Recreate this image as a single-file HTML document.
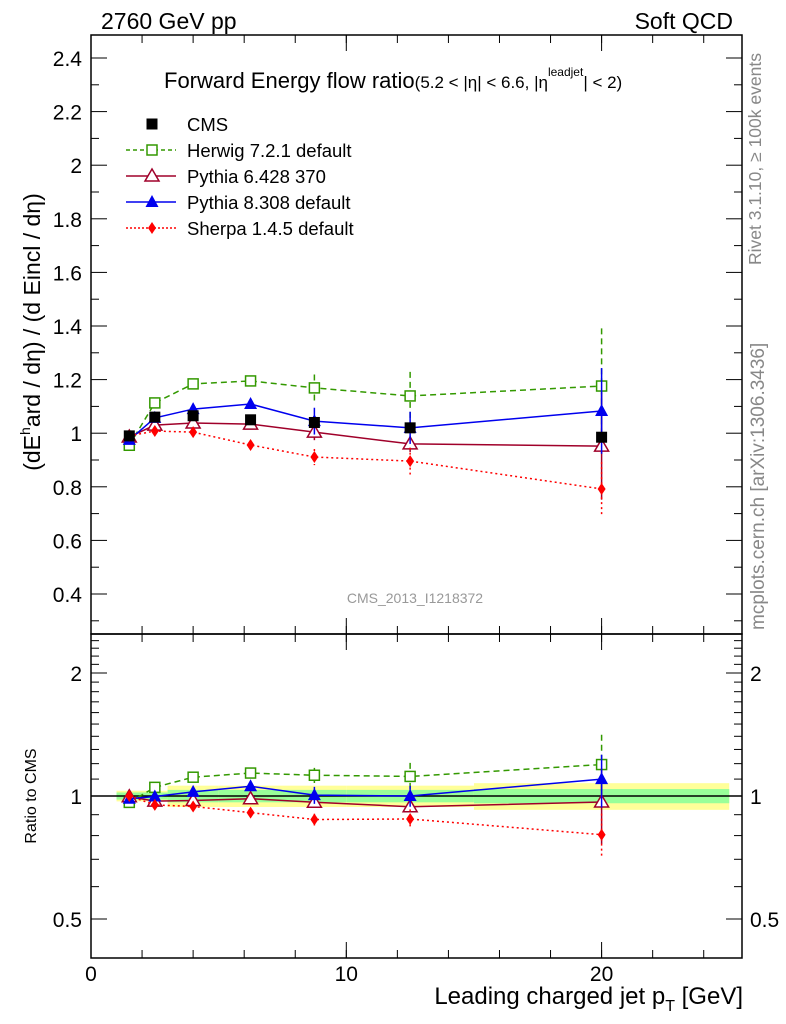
<!DOCTYPE html>
<html><head><meta charset="utf-8"><style>
body{margin:0;background:#fff}
svg{display:block;font-family:"Liberation Sans",sans-serif}
</style></head><body>
<svg id="c" width="786" height="1024" viewBox="0 0 786 1024">
<g id="bands"></g>
<g id="axes"></g>
<g id="series"></g>
<text x="101" y="29" font-size="23">2760 GeV pp</text>
<text x="733" y="29" font-size="23" text-anchor="end">Soft QCD</text>
<text x="164" y="88" font-size="22">Forward Energy flow ratio<tspan font-size="17">(5.2 &lt; |η| &lt; 6.6, |η</tspan><tspan font-size="12" dy="-12">leadjet</tspan><tspan font-size="17" dy="12">| &lt; 2)</tspan></text>
<text x="415" y="603" font-size="14" fill="#999" text-anchor="middle">CMS_2013_I1218372</text>
<text transform="translate(761,265) rotate(-90)" font-size="17.5" fill="#888">Rivet 3.1.10, ≥ 100k events</text>
<text transform="translate(764,630) rotate(-90)" font-size="19" fill="#888">mcplots.cern.ch [arXiv:1306.3436]</text>
<text transform="translate(40,332) rotate(-90)" font-size="23" text-anchor="middle">(dE<tspan font-size="14" dy="-10">h</tspan><tspan dy="10">ard / dη) / (d Eincl / dη)</tspan></text>
<text transform="translate(36,796) rotate(-90)" font-size="16" text-anchor="middle">Ratio to CMS</text>
<text x="743" y="1004" font-size="24" text-anchor="end">Leading charged jet p<tspan font-size="16" dy="7">T</tspan><tspan dy="-7"> [GeV]</tspan></text>
<g id="legend"></g>
</svg>
<script>
const xVals=[1.5,2.5,4,6.25,8.75,12.5,20];
const cms=[0.99,1.06,1.065,1.05,1.04,1.02,0.985];
const herwig=[0.955,1.113,1.184,1.195,1.169,1.139,1.176];
const herwigErr=[0.005,0.01,0.01,0.015,0.05,0.09,0.215];
const pythia6=[0.986,1.03,1.038,1.034,1.004,0.96,0.952];
const pythia6Err=[0.005,0.01,0.01,0.01,0.03,0.03,0.2];
const pythia8=[0.975,1.057,1.09,1.109,1.045,1.02,1.083];
const pythia8Err=[0.005,0.01,0.01,0.015,0.05,0.06,0.16];
const sherpa=[0.99,1.008,1.004,0.956,0.911,0.896,0.792];
const sherpaErr=[0.005,0.01,0.01,0.01,0.03,0.05,0.1];
const binEdges=[1,2,3,5,7.5,10,15,25];
const bandYellow=[0.03,0.03,0.06,0.06,0.06,0.06,0.075];
const bandGreen=[0.02,0.02,0.035,0.035,0.035,0.035,0.04];
const xTicks=[0,10,20];
const yTicks=[0.4,0.6,0.8,1,1.2,1.4,1.6,1.8,2,2.2,2.4];
const rTicks=[0.5,1,2];

const NS="http://www.w3.org/2000/svg";
const L=91,R=742,T1=35,B1=634,T2=634,B2=958;
const X=v=>L+v*25.53;
const Y=v=>58+(2.4-v)*268;
const YR=v=>796-408.6*Math.log10(v);
function mk(tag,at,parent){const e=document.createElementNS(NS,tag);for(const k in at)e.setAttribute(k,at[k]);document.getElementById(parent).appendChild(e);return e;}

binEdges.slice(0,-1).forEach((e,i)=>{
 const x1=X(e),x2=X(binEdges[i+1]);
 let r=mk('rect',{x:x1,y:YR(1+bandYellow[i]),width:x2-x1,height:YR(1-bandYellow[i])-YR(1+bandYellow[i]),fill:'#ffff99'},'bands');
 
 
 let g=mk('rect',{x:x1,y:YR(1+bandGreen[i]),width:x2-x1,height:YR(1-bandGreen[i])-YR(1+bandGreen[i]),fill:'#99ff99'},'bands');
 
 
});
mk('line',{x1:L,x2:R,y1:YR(1),y2:YR(1),stroke:'#000','stroke-width':1.5},'bands');

[[T1,B1],[T2,B2]].forEach(([t,b])=>{const f=mk('rect',{x:L,y:t,width:R-L,height:b-t,fill:'none',stroke:'#000','stroke-width':1.5},'axes');

});
for(let v=0;v<=25;v+=2){const len=8;
 [B1,B2].forEach(b=>mk('line',{x1:X(v),x2:X(v),y1:b,y2:b-len,stroke:'#000'},'axes'));
 [T1,T2].forEach(t=>mk('line',{x1:X(v),x2:X(v),y1:t,y2:t+len,stroke:'#000'},'axes'));}
for(let v=0;v<=25;v+=10){ [B1,B2].forEach(b=>mk('line',{x1:X(v),x2:X(v),y1:b,y2:b-16,stroke:'#000'},'axes')); [T1,T2].forEach(t=>mk('line',{x1:X(v),x2:X(v),y1:t,y2:t+16,stroke:'#000'},'axes'));}
xTicks.forEach(v=>{const t=mk('text',{x:X(v),y:981,'font-size':21,'text-anchor':'middle'},'axes');t.textContent=v;

});
for(let i=3;i<=24;i++){const v=i/10;const maj=i%2==0;const len=maj?16:8;const y=Y(v);if(y<T1||y>B1)continue;
 mk('line',{x1:L,x2:L+len,y1:y,y2:y,stroke:'#000'},'axes');mk('line',{x1:R,x2:R-len,y1:y,y2:y,stroke:'#000'},'axes');}
yTicks.forEach(v=>{const t=mk('text',{x:82,y:Y(v)+8,'font-size':21,'text-anchor':'end'},'axes');t.textContent=v;

});
[0.4,0.5,0.6,0.7,0.8,0.9,1,1.1,1.2,1.3,1.4,1.5,1.6,1.7,1.8,1.9,2,2.1,2.2,2.3,2.4].forEach(v=>{const maj=rTicks.includes(v);const len=maj?16:8;const y=YR(v);if(y<T2+1||y>B2)return;
 mk('line',{x1:L,x2:L+len,y1:y,y2:y,stroke:'#000'},'axes');mk('line',{x1:R,x2:R-len,y1:y,y2:y,stroke:'#000'},'axes');});
rTicks.forEach(v=>{[[82,'end'],[750,'start']].forEach(([x,a])=>{const t=mk('text',{x:x,y:YR(v)+8,'font-size':21,'text-anchor':a},'axes');t.textContent=v;

});});

function marker(kind,x,y,col,parent){
 if(kind=='sqf')return mk('rect',{x:x-5.5,y:y-5.5,width:11,height:11,fill:col},parent);
 if(kind=='sq')return mk('rect',{x:x-5,y:y-5,width:10,height:10,fill:'#fff',stroke:col,'stroke-width':1.5},parent);
 if(kind=='tri')return mk('polygon',{points:`${x},${y-7} ${x-7},${y+5} ${x+7},${y+5}`,fill:'#fff',stroke:col,'stroke-width':1.5},parent);
 if(kind=='trif')return mk('polygon',{points:`${x},${y-7} ${x-6.5},${y+5} ${x+6.5},${y+5}`,fill:col},parent);
 return mk('polygon',{points:`${x},${y-6} ${x-4},${y} ${x},${y+6} ${x+4},${y}`,fill:col},parent);
}
const series=[
 {name:'herwig',vals:herwig,err:herwigErr,col:'#339900',dash:'6,4',m:'sq'},
 {name:'pythia6',vals:pythia6,err:pythia6Err,col:'#a0002a',dash:'',m:'tri'},
 {name:'pythia8',vals:pythia8,err:pythia8Err,col:'#0000ee',dash:'',m:'trif'},
 {name:'sherpa',vals:sherpa,err:sherpaErr,col:'#ff0000',dash:'2,3',m:'dia'}];
series.forEach(s=>{
 [[Y,v=>v,i=>s.err[i]],[YR,(v,i)=>v/cms[i],i=>s.err[i]/cms[i]]].forEach(([yf,tf,ef])=>{
  const pts=s.vals.map((v,i)=>X(xVals[i])+','+yf(tf(v,i))).join(' ');
  const pl=mk('polyline',{points:pts,fill:'none',stroke:s.col,'stroke-width':1.5,'stroke-dasharray':s.dash},'series');
  
  
  s.vals.forEach((v,i)=>{const c=tf(v,i),e=ef(i);const x=X(xVals[i]);
   mk('line',{x1:x,x2:x,y1:yf(c+e),y2:yf(Math.max(c-e,0.01)),stroke:s.col,'stroke-width':1.5,'stroke-dasharray':s.dash},'series');
   const m=marker(s.m,x,yf(c),s.col,'series');
   
   });
 });
});
cms.forEach((v,i)=>{const m=marker('sqf',X(xVals[i]),Y(v),'#000','series');
 
 });

const leg=[['CMS','#000','','sqf'],['Herwig 7.2.1 default','#339900','4,3','sq'],['Pythia 6.428 370','#a0002a','','tri'],['Pythia 8.308 default','#0000ee','','trif'],['Sherpa 1.4.5 default','#ff0000','2,2','dia']];
leg.forEach((l,i)=>{const y=124+i*26;
 if(i>0)mk('line',{x1:126,x2:176,y1:y,y2:y,stroke:l[1],'stroke-width':1.5,'stroke-dasharray':l[2]},'legend');
 marker(l[3],152,y,l[1],'legend');
 const t=mk('text',{x:187,y:y+7,'font-size':18.5},'legend');t.textContent=l[0];
 
 });
</script>
</body></html>
